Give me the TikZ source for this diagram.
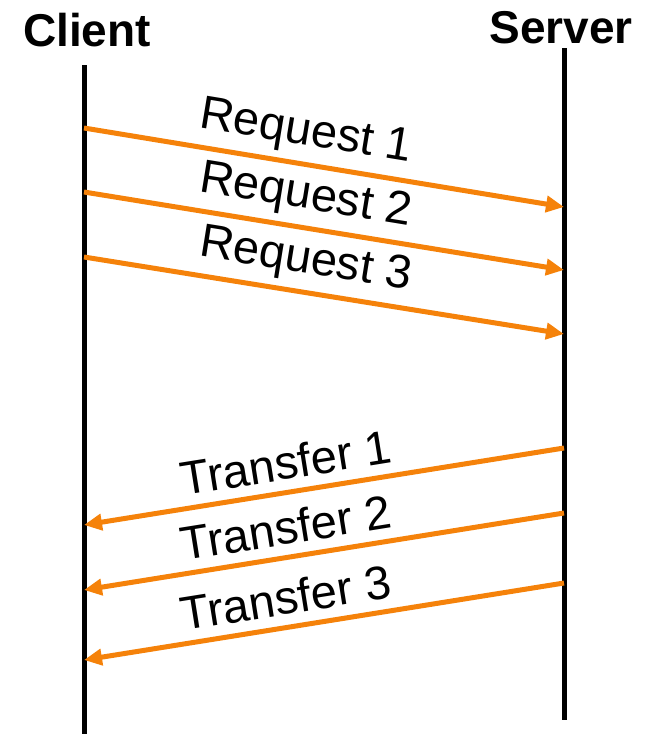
\documentclass[tikz,border=0pt]{standalone}
\usepackage{fontspec}
\setmainfont{Liberation Sans}
\usetikzlibrary{arrows.meta}
\definecolor{msgorange}{RGB}{245,130,10}
\begin{document}
\begin{tikzpicture}[x=1pt,y=-1pt,
  actor/.style={font=\fontsize{46}{52}\selectfont\bfseries, inner sep=0pt},
  lifeline/.style={line width=5pt},
  msg/.style={draw=msgorange, line width=5pt, -{Triangle[length=18pt,width=16pt]}},
  msglabel/.style={font=\fontsize{47}{54}\selectfont, inner sep=0pt, sloped}]
\useasboundingbox (0,0) rectangle (652,734);

% participants
\node[actor] (client) at (87,30) {Client};
\node[actor] (server) at (561,28) {Server};

% lifelines
\coordinate (ctop) at (84,65);
\coordinate (cbot) at (84,734);
\coordinate (stop) at (564,48);
\coordinate (sbot) at (564,720);
\draw[lifeline] (ctop) -- (cbot);
\draw[lifeline] (stop) -- (sbot);

% message end points
\coordinate (rq1a) at (84,128); \coordinate (rq1b) at (564,207);
\coordinate (rq2a) at (84,192); \coordinate (rq2b) at (564,270);
\coordinate (rq3a) at (84,257); \coordinate (rq3b) at (564,334);
\coordinate (tr1a) at (564,448); \coordinate (tr1b) at (84,525);
\coordinate (tr2a) at (564,513); \coordinate (tr2b) at (84,590);
\coordinate (tr3a) at (564,583); \coordinate (tr3b) at (84,660);

% requests
\draw[msg] (rq1a) -- node[msglabel, pos=0.452, above=7pt] {Request 1} (rq1b);
\draw[msg] (rq2a) -- node[msglabel, pos=0.452, above=7pt] {Request 2} (rq2b);
\draw[msg] (rq3a) -- node[msglabel, pos=0.452, above=7pt] {Request 3} (rq3b);

% transfers
\draw[msg] (tr1a) -- node[msglabel, pos=0.57, above=10pt] {Transfer 1} (tr1b);
\draw[msg] (tr2a) -- node[msglabel, pos=0.57, above=10pt] {Transfer 2} (tr2b);
\draw[msg] (tr3a) -- node[msglabel, pos=0.57, above=10pt] {Transfer 3} (tr3b);
\end{tikzpicture}
\end{document}
